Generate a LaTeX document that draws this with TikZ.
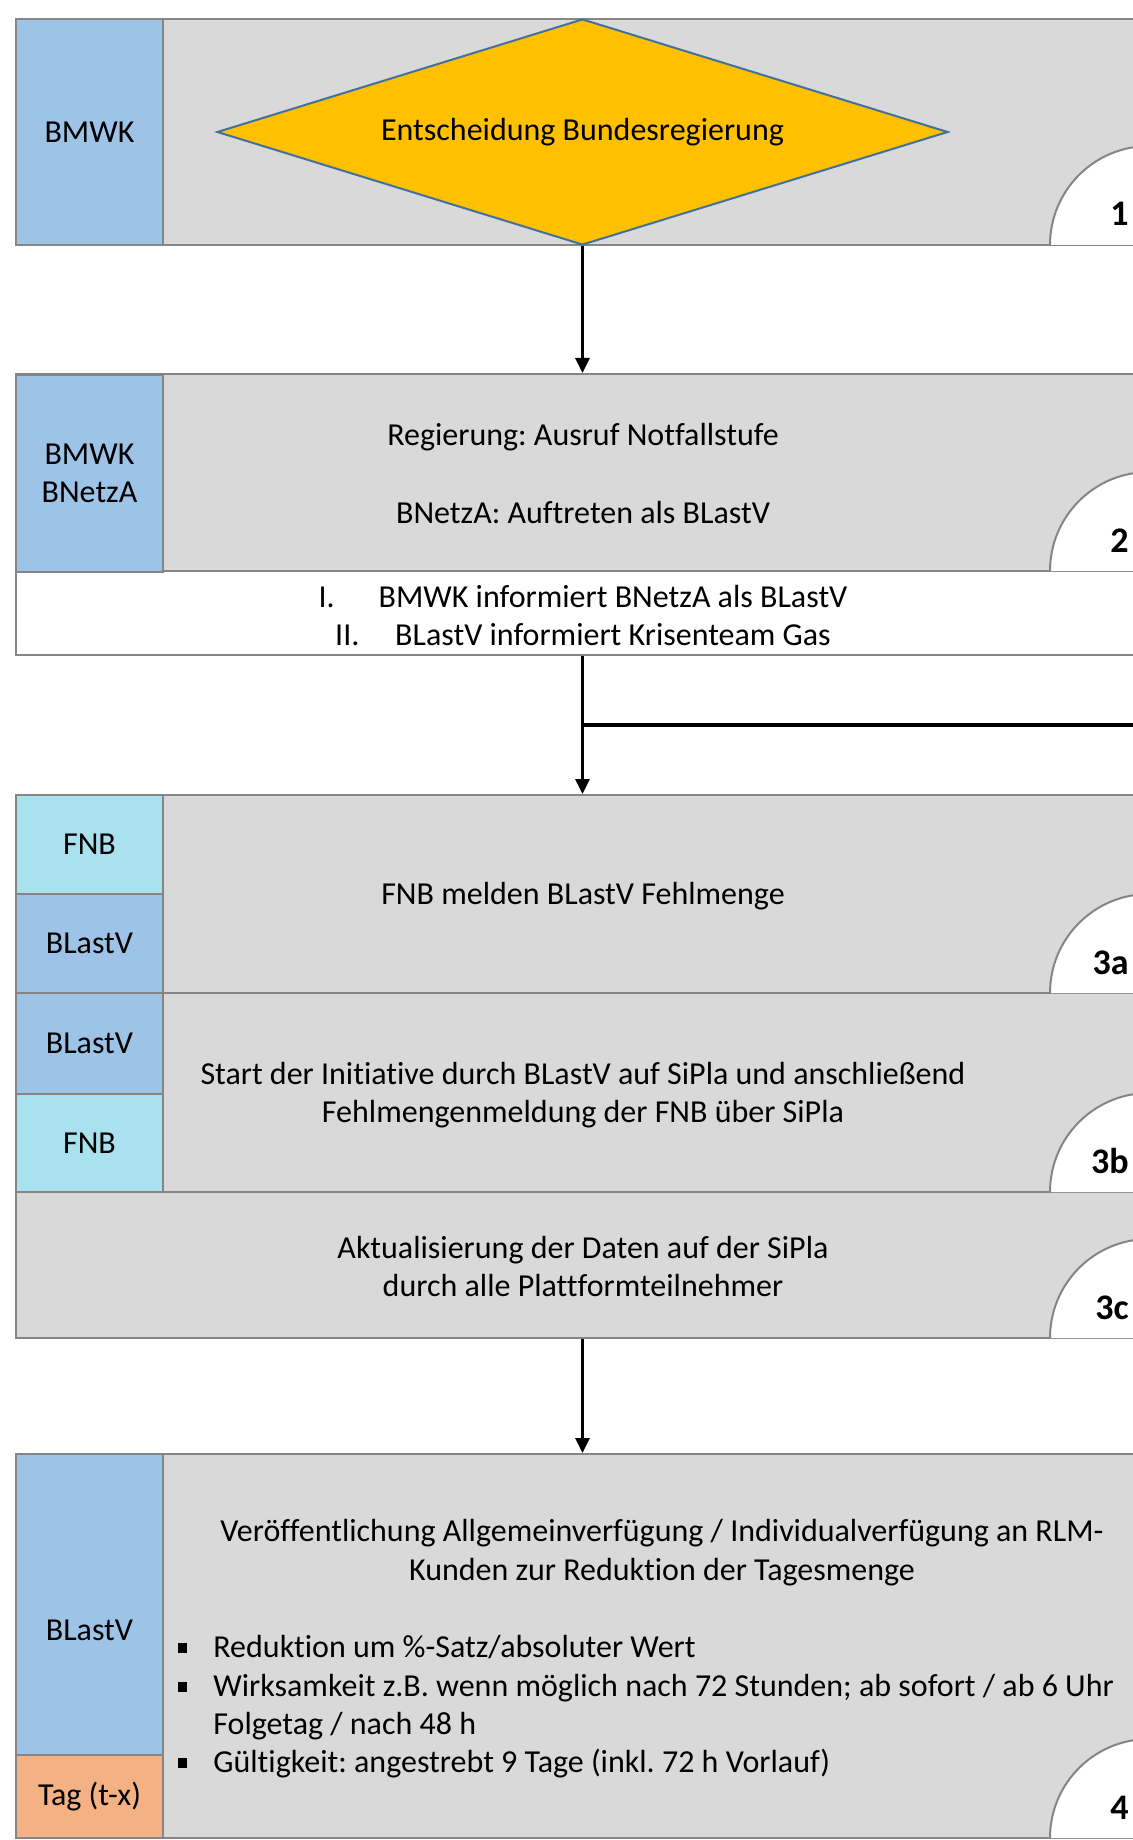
\documentclass[tikz,border=0pt]{standalone}
\usepackage{fontspec}
\setmainfont{Carlito}[Ligatures=NoCommon]
\usetikzlibrary{shapes.geometric,arrows.meta}
\definecolor{lanegray}{HTML}{D9D9D9}
\definecolor{edgegray}{HTML}{858585}
\definecolor{roleblue}{HTML}{9DC3E6}
\definecolor{rolecyan}{HTML}{A9E2EE}
\definecolor{roleorange}{HTML}{F4B183}
\definecolor{decyellow}{HTML}{FFC000}
\definecolor{decblue}{HTML}{41719C}
\frenchspacing
\newcommand{\sqbul}{\makebox[17.5pt][l]{\rule[2.3pt]{4.3pt}{5pt}}}
\tikzset{
  lane/.style={draw=edgegray, fill=lanegray, line width=1pt, minimum width=566.5pt, inner sep=0pt},
  role/.style={draw=edgegray, line width=1pt, minimum width=73.5pt, inner sep=0pt, align=center},
  stepno/.style={font=\bfseries\fontsize{18}{20}\selectfont, anchor=base east, inner sep=0pt},
  flow/.style={line width=1.6pt, -{Triangle[length=7.5pt,width=7pt]}},
}
\begin{document}
\begin{tikzpicture}[x=0.5pt,y=-0.5pt,font=\fontsize{16}{19}\selectfont]
  \useasboundingbox (0,0) rectangle (1133,1840);
  \clip (0,0) rectangle (1133,1840);

  \node[lane, minimum height=113pt] (box1) at (582.5,132) {};
  \node[lane, minimum height=98.5pt] (box2) at (582.5,472.5) {};
  \node[lane, fill=white, minimum height=42pt] (box2i) at (582.5,613) {};
  \node[lane, minimum height=99pt] (box3a) at (582.5,894) {};
  \node[lane, minimum height=99.5pt] (box3b) at (582.5,1092.5) {};
  \node[lane, minimum height=73pt] (box3c) at (582.5,1265) {};
  \node[lane, minimum height=192pt] (box4) at (582.5,1646) {};

  \node[role, fill=roleblue, minimum height=113pt] (r1) at (89.5,132) {BMWK};
  \node[role, fill=roleblue, minimum height=98.5pt] (r2) at (89.5,473) {BMWK\\BNetzA};
  \node[role, fill=rolecyan, minimum height=49.5pt] (r3a) at (89.5,844.5) {FNB};
  \node[role, fill=roleblue, minimum height=49.5pt] (r3a2) at (89.5,943.5) {BLastV};
  \node[role, fill=roleblue, minimum height=50.5pt] (r3b) at (89.5,1043.5) {BLastV};
  \node[role, fill=rolecyan, minimum height=49pt] (r3b2) at (89.5,1143) {FNB};
  \node[role, fill=roleblue, minimum height=150.5pt] (r4) at (89.5,1604.5) {};
  \node[role, fill=roleorange, minimum height=41.5pt] (r4t) at (89.5,1796.5) {Tag (t-x)};
  \node (r4l) at (89.5,1630) {BLastV};

  \node[diamond, aspect=3.235, draw=decblue, fill=decyellow, line width=1pt, inner sep=0pt,
        minimum width=365.5pt, minimum height=113pt] (dec) at (582.5,132) {Entscheidung Bundesregierung};

  \node (t2a) at (583,437) {Regierung: Ausruf Notfallstufe};
  \node (t2b) at (583,513) {BNetzA: Auftreten als BLastV};
  \node[align=center] (t2i) at (583,616) {\makebox[30pt][l]{I.}BMWK informiert BNetzA als BLastV\\
    \makebox[30pt][l]{II.}BLastV informiert Krisenteam Gas};
  \node (t3a) at (583,896) {FNB melden BLastV Fehlmenge};
  \node[align=center] (t3b) at (583,1095) {Start der Initiative durch BLastV auf SiPla und anschließend\\
    Fehlmengenmeldung der FNB über SiPla};
  \node[align=center] (t3c) at (583,1266) {Aktualisierung der Daten auf der SiPla\\durch alle Plattformteilnehmer};
  \node[align=center, font=\fontsize{16}{19.5}\selectfont] (t4) at (662,1553) {Veröffentlichung Allgemeinverfügung / Individualverfügung an RLM-\\
    Kunden zur Reduktion der Tagesmenge};
  \node[align=left, anchor=west, inner sep=0pt, font=\fontsize{16}{19.2}\selectfont] (t4l) at (178,1707) {\sqbul Reduktion um \%-Satz/absoluter Wert\\
    \sqbul Wirksamkeit z.B. wenn möglich nach 72 Stunden; ab sofort / ab 6 Uhr\\
    \hspace*{17.5pt}Folgetag / nach 48 h\\
    \sqbul Gültigkeit: angestrebt 9 Tage (inkl. 72 h Vorlauf)};

  \foreach \y/\n in {245/1, 571/2, 993/3a, 1192/3b, 1338/3c, 1838/4} {
    \fill[white] (1149,\y) -- (1050,\y) arc[start angle=180, end angle=270, radius=99] -- cycle;
    \draw[draw=edgegray, line width=1pt] (1050,\y) arc[start angle=180, end angle=270, radius=99];
    \node[stepno] (no\n) at (1129,\y-19) {\n};
  }

  \coordinate (fork) at (582.5,725);
  \coordinate (exit) at (1140,725);
  \draw[flow] (dec.south) -- (box2.north);
  \draw[flow] (box2i.south) -- (box3a.north);
  \draw[line width=1.75pt] (fork) -- (exit);
  \draw[flow] (box3c.south) -- (box4.north);
\end{tikzpicture}
\end{document}
